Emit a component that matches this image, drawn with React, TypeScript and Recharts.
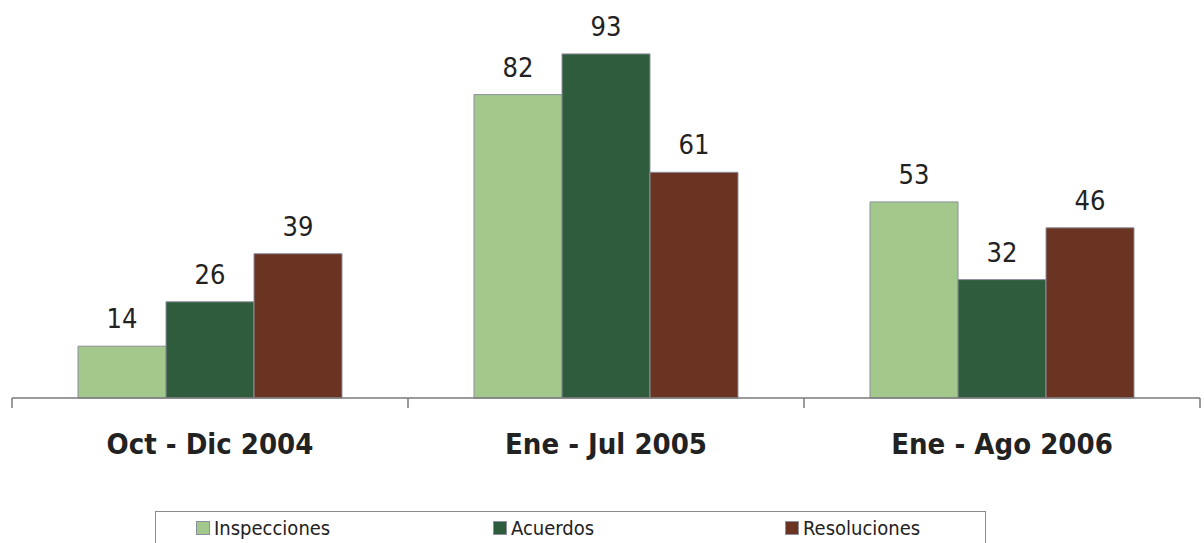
import React from 'react';
import { BarChart, Bar, XAxis, YAxis, Legend, LabelList } from 'recharts';

const categories = ['Oct - Dic 2004', 'Ene - Jul 2005', 'Ene - Ago 2006'];
const inspecciones = [14, 82, 53];
const acuerdos = [26, 93, 32];
const resoluciones = [39, 61, 46];

const seriesNames = ['Inspecciones', 'Acuerdos', 'Resoluciones'];
const seriesColors = ['#a2c98b', '#2f5c3d', '#6b3322'];

const data = categories.map((c, i) => ({
  name: c,
  Inspecciones: inspecciones[i],
  Acuerdos: acuerdos[i],
  Resoluciones: resoluciones[i],
}));

const FONT = '"DejaVu Sans Condensed", "DejaVu Sans", sans-serif';

const CategoryTick = (props: any) => {
  const { x, y, payload, index, width, visibleTicksCount } = props;
  const half = width / visibleTicksCount / 2;
  const isLast = index === visibleTicksCount - 1;
  return (
    <g>
      <line x1={x - half} y1={y} x2={x - half} y2={y + 10} stroke="#7a7a7a" strokeWidth={1.5} />
      {isLast && (
        <line x1={x + half} y1={y} x2={x + half} y2={y + 10} stroke="#7a7a7a" strokeWidth={1.5} />
      )}
      <text
        x={x}
        y={y + 56}
        textAnchor="middle"
        fontFamily={FONT}
        fontWeight="bold"
        fontSize={29}
        fill="#222"
      >
        {payload.value}
      </text>
    </g>
  );
};

const LegendBox = () => (
  <div
    style={{
      position: 'relative',
      width: 831,
      height: 32,
      borderTop: '1.5px solid #8a8a8a',
      borderLeft: '1.5px solid #8a8a8a',
      borderRight: '1.5px solid #8a8a8a',
      boxSizing: 'border-box',
      fontFamily: FONT,
      fontSize: 20,
      color: '#222',
    }}
  >
    {seriesNames.map((n, i) => (
      <div
        key={n}
        style={{
          position: 'absolute',
          left: [40, 337, 629][i],
          top: 4,
          display: 'flex',
          alignItems: 'center',
          whiteSpace: 'nowrap',
        }}
      >
        <span
          style={{
            display: 'inline-block',
            width: 12,
            height: 12,
            background: seriesColors[i],
            border: '1px solid #8d8f9f',
            marginRight: 4,
          }}
        />
        <span>{n}</span>
      </div>
    ))}
  </div>
);

export default function App() {
  return (
    <div style={{ position: 'absolute', left: 0, top: 0, width: 1204, height: 543, background: '#ffffff' }}>
      <BarChart
        width={1204}
        height={543}
        data={data}
        margin={{ top: 28, right: 4, left: 12, bottom: 0 }}
        barGap={0}
        barCategoryGap={66}
      >
        <XAxis
          dataKey="name"
          axisLine={{ stroke: '#7a7a7a', strokeWidth: 1.5 }}
          tickLine={false}
          tickSize={0}
          tickMargin={0}
          height={113}
          interval={0}
          tick={<CategoryTick />}
        />
        <YAxis hide domain={[0, 100]} />
        <Legend
          verticalAlign="bottom"
          content={<LegendBox />}
          wrapperStyle={{ left: 155, width: 831, bottom: 0, height: 32 }}
        />
        {seriesNames.map((n, i) => (
          <Bar
            key={n}
            dataKey={n}
            fill={seriesColors[i]}
            stroke="#8d8f9f"
            strokeWidth={1}
            isAnimationActive={false}
          >
            <LabelList
              dataKey={n}
              position="top"
              offset={18}
              fontFamily={FONT}
              fontSize={27}
              fill="#222"
            />
          </Bar>
        ))}
      </BarChart>
    </div>
  );
}
